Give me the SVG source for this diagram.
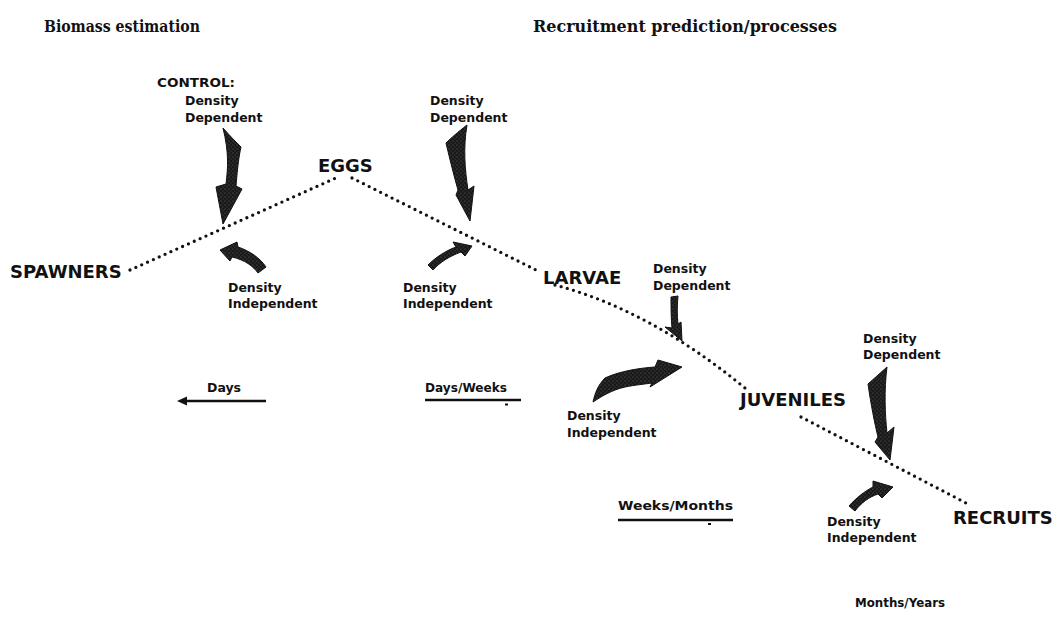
<svg xmlns="http://www.w3.org/2000/svg" width="1059" height="636" viewBox="0 0 1059 636">
<style>
.title{font-family:"DejaVu Serif","Liberation Serif",serif;font-weight:bold;font-size:16.5px;fill:#111}
.stage{font-family:"DejaVu Sans","Liberation Sans",sans-serif;font-weight:bold;font-size:18px;fill:#111}
.lbl{font-family:"DejaVu Sans","Liberation Sans",sans-serif;font-weight:bold;font-size:12.5px;fill:#111}
.dots{fill:none;stroke:#111;stroke-width:3.3;stroke-linecap:round;stroke-dasharray:0 6.4}
.arrow{fill:url(#stipple);stroke:#111;stroke-width:1}
.rule{stroke:#111;stroke-width:2.4;fill:none}
</style>
<defs>
<pattern id="stipple" width="4" height="4" patternUnits="userSpaceOnUse">
<rect width="4" height="4" fill="#1a1a1a"/>
<circle cx="1" cy="1" r="0.6" fill="#666"/>
<circle cx="3" cy="3" r="0.5" fill="#555"/>
</pattern>
</defs>
<rect width="1059" height="636" fill="#fff"/>

<g id="titles">
<text class="title" x="44" y="32" textLength="156" lengthAdjust="spacingAndGlyphs">Biomass estimation</text>
<text class="title" x="533" y="32" textLength="304" lengthAdjust="spacingAndGlyphs">Recruitment prediction/processes</text>
</g>

<g id="connectors">
<path class="dots" d="M130,270 L338,177"/>
<path class="dots" d="M352,178 L540,272"/>
<path class="dots" d="M555,285 Q650,310 745,388"/>
<path class="dots" d="M801,417 L966,503"/>
</g>

<g id="spawners"><text class="stage" x="10" y="278">SPAWNERS</text></g>
<g id="eggs"><text class="stage" x="318" y="172">EGGS</text></g>
<g id="larvae"><text class="stage" x="543" y="284" font-size="17.5">LARVAE</text></g>
<g id="juveniles"><text class="stage" x="740" y="406" font-size="19">JUVENILES</text></g>
<g id="recruits"><text class="stage" x="953" y="524" font-size="19">RECRUITS</text></g>

<g id="control-dd">
<text class="lbl" x="157" y="87" textLength="78" lengthAdjust="spacingAndGlyphs">CONTROL:</text>
<text class="lbl" x="185" y="105">Density</text>
<text class="lbl" x="185" y="122">Dependent</text>
<path class="arrow" d="M223,128 C230,136 236,142 241,147 C238,160 237,175 236,186 L242,189 L223,224 L216,187 L226,184 C228,168 229,152 223,128 Z"/>
</g>

<g id="spawn-di">
<text class="lbl" x="228" y="292">Density</text>
<text class="lbl" x="228" y="308">Independent</text>
<path class="arrow" d="M220,250 L237,242 L238,247 C250,251 260,258 266,267 L258,273 C253,266 245,260 232,257 L230,261 Z"/>
</g>

<g id="eggs-dd">
<text class="lbl" x="430" y="105">Density</text>
<text class="lbl" x="430" y="122">Dependent</text>
<path class="arrow" d="M467,125 C458,132 451,138 446,143 C450,160 454,176 458,190 L456,195 L470,221 L474,186 L468,190 C465,170 463,148 467,125 Z"/>
</g>

<g id="eggs-di">
<text class="lbl" x="403" y="292">Density</text>
<text class="lbl" x="403" y="308">Independent</text>
<path class="arrow" d="M472,246 L453,242 L456,247 C445,251 435,258 428,265 L433,270 C440,262 450,256 461,252 L465,256 Z"/>
</g>

<g id="larvae-dd">
<text class="lbl" x="653" y="273">Density</text>
<text class="lbl" x="653" y="290">Dependent</text>
<path class="arrow" d="M671,297 L678,296 C677,305 677,315 678,324 L681,322 L682,341 L665,327 L672,328 C671,318 671,306 671,297 Z"/>
</g>

<g id="larvae-di">
<text class="lbl" x="567" y="420">Density</text>
<text class="lbl" x="567" y="437">Independent</text>
<path class="arrow" d="M682,367 L658,360 L655,367 C640,368 620,371 605,378 C598,385 595,393 593,402 C602,396 612,390 625,387 C635,385 645,384 652,383 L650,387 Z"/>
</g>

<g id="juv-dd">
<text class="lbl" x="863" y="343">Density</text>
<text class="lbl" x="863" y="359">Dependent</text>
<path class="arrow" d="M887,367 L868,384 C871,405 875,425 878,437 L875,442 L890,460 L894,427 L887,433 C885,415 884,390 887,367 Z"/>
</g>

<g id="juv-di">
<text class="lbl" x="827" y="526">Density</text>
<text class="lbl" x="827" y="542">Independent</text>
<path class="arrow" d="M893,487 L873,481 L873,487 C865,491 856,498 849,506 L855,511 C861,503 869,497 878,494 L882,498 Z"/>
</g>

<g id="timescales">
<text class="lbl" x="207" y="392" font-size="11.5">Days</text>
<line class="rule" x1="184" y1="401" x2="266" y2="401"/>
<polygon points="177,401 187,396.5 187,405.5" fill="#111"/>
<text class="lbl" x="425" y="392" font-size="11.5" textLength="82" lengthAdjust="spacingAndGlyphs">Days/Weeks</text>
<line class="rule" x1="425" y1="400" x2="521" y2="400"/>
<rect x="505" y="403.5" width="3" height="2" fill="#111"/>
<text class="lbl" x="618" y="510" font-size="11.5" textLength="115" lengthAdjust="spacingAndGlyphs">Weeks/Months</text>
<line class="rule" x1="618" y1="520" x2="733" y2="520"/>
<rect x="708" y="523" width="3" height="2" fill="#111"/>
<text class="lbl" x="855" y="607" font-size="11" textLength="90" lengthAdjust="spacingAndGlyphs">Months/Years</text>
</g>
</svg>
